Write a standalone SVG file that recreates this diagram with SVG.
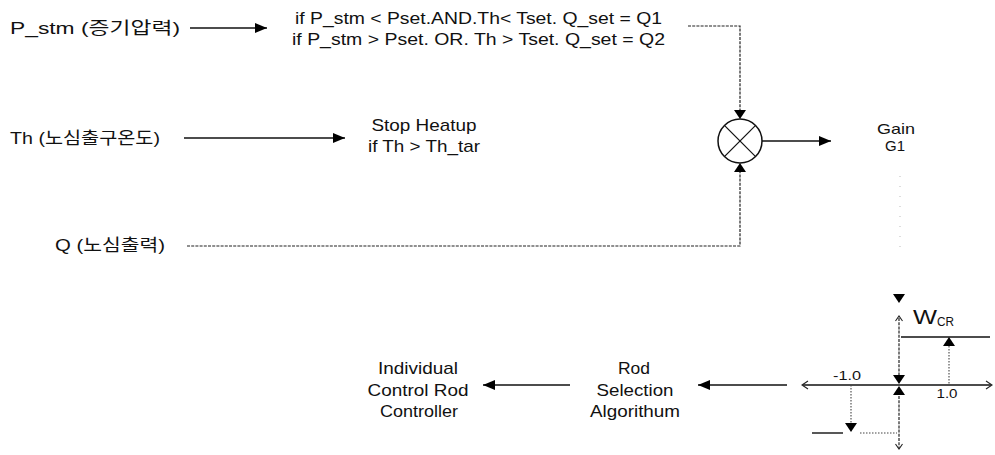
<svg xmlns="http://www.w3.org/2000/svg" width="995" height="455" viewBox="0 0 995 455">
  <style>
    text { font-family: "Liberation Sans", "Noto Sans CJK KR", sans-serif; fill: #111; }
    .lbl { font-size: 17px; }
    .cond { font-size: 17px; }
    .mid { text-anchor: middle; }
    .solid { stroke: #111; stroke-width: 1.4; fill: none; }
    .dash { stroke: #222; stroke-width: 1.2; fill: none; stroke-dasharray: 3 1.2; }
    .dot { stroke: #444; stroke-width: 1.1; fill: none; stroke-dasharray: 1.5 1.5; }
    .faint { stroke: #bbb; stroke-width: 1; fill: none; stroke-dasharray: 1 9; }
    .tri { fill: #000; }
    .chev { stroke: #222; stroke-width: 1.1; fill: none; }
  </style>
  <defs>
    <marker id="ah" viewBox="0 0 12 10" refX="12" refY="5" markerWidth="12" markerHeight="10" markerUnits="userSpaceOnUse" orient="auto">
      <path d="M0,0 L12,5 L0,10 Z" fill="#000"/>
    </marker>
    <path id="triDown" d="M-6,-9 L6,-9 L0,0 Z"/>
    <path id="triUp" d="M-6,9 L6,9 L0,0 Z"/>
  </defs>

  <!-- input signals -->
  <g id="in-pstm">
    <text class="lbl" x="10" y="34" textLength="170" lengthAdjust="spacingAndGlyphs">P_stm (증기압력)</text>
  </g>
  <g id="in-th">
    <text class="lbl" x="10" y="144" textLength="150" lengthAdjust="spacingAndGlyphs">Th (노심출구온도)</text>
  </g>
  <g id="in-q">
    <text class="lbl" x="55" y="251" textLength="110" lengthAdjust="spacingAndGlyphs">Q (노심출력)</text>
  </g>

  <!-- set-point logic -->
  <g id="qset-logic">
    <text class="cond" x="295" y="24" textLength="367" lengthAdjust="spacingAndGlyphs">if P_stm &lt; Pset.AND.Th&lt; Tset. Q_set = Q1</text>
    <text class="cond" x="292" y="45" textLength="373" lengthAdjust="spacingAndGlyphs">if P_stm &gt; Pset. OR. Th &gt; Tset. Q_set = Q2</text>
  </g>

  <g id="stop-heatup">
    <text class="lbl mid" x="424" y="131" textLength="105" lengthAdjust="spacingAndGlyphs">Stop Heatup</text>
    <text class="lbl mid" x="424" y="152" textLength="112" lengthAdjust="spacingAndGlyphs">if Th &gt; Th_tar</text>
  </g>

  <!-- multiplier -->
  <g id="multiplier">
    <circle cx="740" cy="141" r="22" fill="#fff" stroke="#111" stroke-width="1.5"/>
    <line x1="724.4" y1="125.4" x2="755.6" y2="156.6" stroke="#111" stroke-width="1.2"/>
    <line x1="755.6" y1="125.4" x2="724.4" y2="156.6" stroke="#111" stroke-width="1.2"/>
  </g>

  <g id="gain">
    <text class="mid" font-size="15" x="896" y="134" textLength="38" lengthAdjust="spacingAndGlyphs">Gain</text>
    <text class="mid" font-size="15" x="895" y="151" textLength="20" lengthAdjust="spacingAndGlyphs">G1</text>
  </g>

  <!-- rod control chain -->
  <g id="rod-controller">
    <text class="lbl mid" x="418" y="374" textLength="80" lengthAdjust="spacingAndGlyphs">Individual</text>
    <text class="lbl mid" x="418" y="396" textLength="101" lengthAdjust="spacingAndGlyphs">Control Rod</text>
    <text class="lbl mid" x="419" y="417" textLength="78" lengthAdjust="spacingAndGlyphs">Controller</text>
  </g>
  <g id="rod-selection">
    <text class="lbl mid" x="634" y="374" textLength="32" lengthAdjust="spacingAndGlyphs">Rod</text>
    <text class="lbl mid" x="635" y="396" textLength="77" lengthAdjust="spacingAndGlyphs">Selection</text>
    <text class="lbl mid" x="635" y="417" textLength="90" lengthAdjust="spacingAndGlyphs">Algorithum</text>
  </g>

  <!-- rod speed characteristic -->
  <g id="wcr-curve">
    <!-- horizontal axis -->
    <line class="solid" x1="803" y1="385" x2="991" y2="385" stroke-width="1.3"/>
    <polyline class="chev" points="808,381 802,385 808,389"/>
    <polyline class="chev" points="986,381 992,385 986,389"/>
    <text x="847" y="380" class="mid" font-size="13" textLength="28" lengthAdjust="spacingAndGlyphs">-1.0</text>
    <text x="947" y="398" class="mid" font-size="13" textLength="21" lengthAdjust="spacingAndGlyphs">1.0</text>
    <!-- vertical axis -->
    <line class="dash" x1="899" y1="318" x2="899" y2="375" stroke-dasharray="5 3"/>
    <polyline class="chev" points="895.5,321 899,316 902.5,321"/>
    <line class="dash" x1="899" y1="396" x2="899" y2="448" stroke-dasharray="5 3"/>
    <polyline class="chev" points="895.5,444 899,449 902.5,444"/>
    <use href="#triDown" class="tri" x="899" y="303"/>
    <use href="#triDown" class="tri" x="899" y="384"/>
    <use href="#triUp" class="tri" x="899" y="386"/>
    <text x="913" y="324" font-size="21" textLength="24" lengthAdjust="spacingAndGlyphs">W</text>
    <text x="937" y="326" font-size="12" textLength="17" lengthAdjust="spacingAndGlyphs">CR</text>
    <!-- upper step at +1.0 -->
    <line class="solid" x1="901" y1="337" x2="990" y2="337" stroke-width="1.3"/>
    <line class="dot" x1="949" y1="346" x2="949" y2="385"/>
    <use href="#triUp" class="tri" x="949" y="337"/>
    <!-- lower step at -1.0 -->
    <line class="dot" x1="851" y1="385" x2="851" y2="423"/>
    <use href="#triDown" class="tri" x="851" y="432"/>
    <line class="solid" x1="812" y1="433" x2="843" y2="433" stroke-width="1.3"/>
    <line class="dot" x1="860" y1="433" x2="897" y2="433"/>
  </g>

  <!-- connectors -->
  <g id="connectors">
    <line class="solid" x1="190" y1="28" x2="267" y2="28" marker-end="url(#ah)"/>
    <line class="solid" x1="184" y1="138" x2="345" y2="138" marker-end="url(#ah)"/>
    <polyline class="dash" points="688,26 740,26 740,111"/>
    <use href="#triDown" class="tri" x="740" y="119"/>
    <polyline class="dash" points="187,246 740,246 740,172"/>
    <use href="#triUp" class="tri" x="740" y="163"/>
    <line class="solid" x1="762" y1="141" x2="831" y2="141" marker-end="url(#ah)"/>
    <line class="solid" x1="787" y1="385" x2="698" y2="385" marker-end="url(#ah)"/>
    <line class="solid" x1="570" y1="385" x2="483" y2="385" marker-end="url(#ah)"/>
    <line class="faint" x1="900" y1="176" x2="900" y2="250"/>
  </g>
</svg>
